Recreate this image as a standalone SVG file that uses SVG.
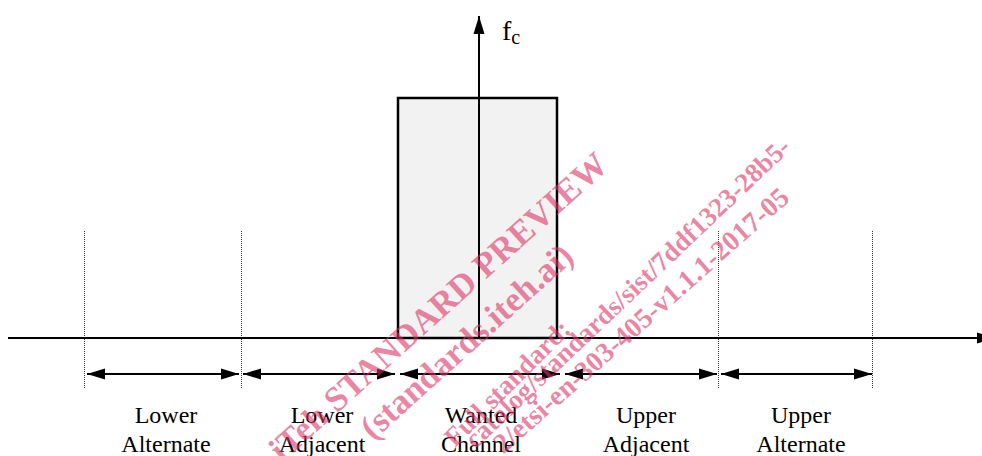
<svg xmlns="http://www.w3.org/2000/svg" width="982" height="456" viewBox="0 0 982 456">
  <style>
    .lbl { font-family: "Liberation Serif", "Times New Roman", serif; font-size: 24px; fill: #000; text-anchor: middle; }
    .dot { stroke: #333; stroke-width: 1; stroke-dasharray: 1 1; fill: none; }
    .conn { stroke: #000; stroke-width: 2; fill: none; }
    .wm { font-family: "Liberation Serif", "Times New Roman", serif; font-weight: bold; fill: #dd3366; fill-opacity: 0.6; }
  </style>
  <defs>
    <marker id="ah" markerUnits="userSpaceOnUse" markerWidth="18" markerHeight="12" refX="18" refY="6" orient="auto-start-reverse">
      <path d="M0,0.5 L18,6 L0,11.5 z" fill="#000"/>
    </marker>
  </defs>
  <rect width="982" height="456" fill="#fff"/>

  <g id="wanted-channel-block">
    <rect x="398" y="98" width="159" height="240" fill="#f2f2f2" stroke="#000" stroke-width="2.5"/>
  </g>

  <g id="boundaries">
    <line class="dot" x1="84.5" y1="231" x2="84.5" y2="389"/>
    <line class="dot" x1="241.5" y1="231" x2="241.5" y2="389"/>
    <line class="dot" x1="718.5" y1="231" x2="718.5" y2="389"/>
    <line class="dot" x1="872.5" y1="231" x2="872.5" y2="389"/>
  </g>

  <g id="connectors">
    <line id="freq-axis" class="conn" x1="8" y1="338" x2="995" y2="338" marker-end="url(#ah)"/>
    <line id="fc-axis" class="conn" x1="479" y1="338" x2="479" y2="16" marker-end="url(#ah)"/>
    <line class="conn" x1="87" y1="374" x2="239" y2="374" marker-start="url(#ah)" marker-end="url(#ah)"/>
    <line class="conn" x1="243" y1="374" x2="395" y2="374" marker-start="url(#ah)" marker-end="url(#ah)"/>
    <line class="conn" x1="400" y1="374" x2="560" y2="374" marker-start="url(#ah)" marker-end="url(#ah)"/>
    <line class="conn" x1="565" y1="374" x2="717" y2="374" marker-start="url(#ah)" marker-end="url(#ah)"/>
    <line class="conn" x1="721" y1="374" x2="872" y2="374" marker-start="url(#ah)" marker-end="url(#ah)"/>
  </g>

  <g id="fc-label">
    <text x="502" y="40" font-family="Liberation Serif, serif" font-size="28" fill="#000">f<tspan font-size="20" dy="4">c</tspan></text>
  </g>

  <g id="lower-alternate">
    <text class="lbl" x="166" y="423">Lower</text>
    <text class="lbl" x="166" y="452">Alternate</text>
  </g>
  <g id="lower-adjacent">
    <text class="lbl" x="322" y="423">Lower</text>
    <text class="lbl" x="322" y="452">Adjacent</text>
  </g>
  <g id="wanted-channel">
    <text class="lbl" x="481" y="423">Wanted</text>
    <text class="lbl" x="481" y="452">Channel</text>
  </g>
  <g id="upper-adjacent">
    <text class="lbl" x="646" y="423">Upper</text>
    <text class="lbl" x="646" y="452">Adjacent</text>
  </g>
  <g id="upper-alternate">
    <text class="lbl" x="801" y="423">Upper</text>
    <text class="lbl" x="801" y="452">Alternate</text>
  </g>

  <g id="watermark">
    <text class="wm" font-size="35" transform="translate(282,463) rotate(-42)">iTeh STANDARD PREVIEW</text>
    <text class="wm" font-size="35" transform="translate(373,441) rotate(-42)">(standards.iteh.ai)</text>
    <text class="wm" font-size="27" transform="translate(455,448) rotate(-45)">Full standard:</text>
    <text class="wm" font-size="27" text-anchor="end" transform="translate(792,149) rotate(-43.5)">catalog/standards/sist/7ddf1323-28b5-</text>
    <text class="wm" font-size="28" text-anchor="end" transform="translate(791,200) rotate(-41.5)">2/etsi-en-303-405-v1.1.1-2017-05</text>
  </g>
</svg>
